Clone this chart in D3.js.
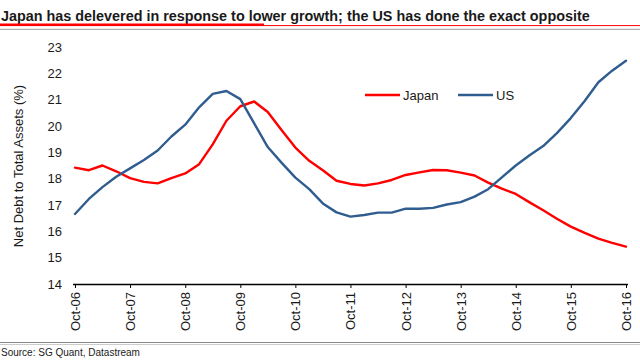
<!DOCTYPE html>
<html><head><meta charset="utf-8">
<script src="https://cdn.jsdelivr.net/npm/d3@7"></script>
<style>
html,body{margin:0;padding:0;background:#fff;}
svg{display:block;font-family:"Liberation Sans",Arial,sans-serif;}
</style></head>
<body><svg id="c" width="640" height="360"></svg>
<script>
// Quarterly observations, Oct-06 .. Oct-16
const dates = ["2006-10","2007-01","2007-04","2007-07","2007-10","2008-01","2008-04","2008-07","2008-10","2009-01",
"2009-04","2009-07","2009-10","2010-01","2010-04","2010-07","2010-10","2011-01","2011-04","2011-07",
"2011-10","2012-01","2012-04","2012-07","2012-10","2013-01","2013-04","2013-07","2013-10","2014-01",
"2014-04","2014-07","2014-10","2015-01","2015-04","2015-07","2015-10","2016-01","2016-04","2016-07","2016-10"];
const japan = [18.42,18.32,18.50,18.28,18.02,17.88,17.82,18.02,18.20,18.55,
19.30,20.20,20.75,20.93,20.53,19.85,19.18,18.68,18.32,17.92,
17.80,17.74,17.82,17.95,18.14,18.24,18.33,18.32,18.23,18.12,
17.85,17.62,17.42,17.10,16.80,16.48,16.18,15.94,15.72,15.56,15.42];
const us = [16.66,17.23,17.68,18.07,18.39,18.71,19.07,19.60,20.05,20.71,
21.22,21.33,21.02,20.10,19.20,18.61,18.04,17.60,17.06,16.72,
16.56,16.62,16.71,16.71,16.86,16.86,16.89,17.02,17.11,17.32,
17.60,18.05,18.50,18.89,19.24,19.73,20.30,20.95,21.66,22.10,22.48];
const yTicks = [14,15,16,17,18,19,20,21,22,23];
const xTickDates = ["2006-10","2007-10","2008-10","2009-10","2010-10","2011-10","2012-10","2013-10","2014-10","2015-10","2016-10"];
const seriesNames = ["Japan","US"];
const colors = ["#ff0000","#2f5d8f"];
const titleText = "Japan has delevered in response to lower growth; the US has done the exact opposite";
const sourceText = "Source: SG Quant, Datastream";

const parse = d3.timeParse("%Y-%m");
const svg = d3.select("#c");

const x = d3.scaleTime().domain([parse("2006-10"), parse("2016-10")]).range([75, 626]);
const y = d3.scaleLinear().domain([14, 23]).range([284, 47]);

// Title
const title = svg.append("text").attr("x", 1).attr("y", 20.5).attr("font-weight", "bold")
  .attr("font-size", 14).attr("fill", "#1a1a1a").text(titleText);
const full = title.node().getComputedTextLength();
const jw = title.node().getSubStringLength(0, 1);
title.attr("font-size", 14 * 581 / (full - jw));

svg.append("line").attr("x1", 0).attr("x2", 640).attr("y1", 25.6).attr("y2", 25.6)
  .attr("stroke", "#ff0000").attr("stroke-width", 1);
svg.append("line").attr("x1", 0).attr("x2", 264).attr("y1", 24.8).attr("y2", 24.8)
  .attr("stroke", "#ff0000").attr("stroke-width", 2.6);
svg.append("line").attr("x1", 0).attr("x2", 640).attr("y1", 29.3).attr("y2", 29.3)
  .attr("stroke", "#9a9a9a").attr("stroke-width", 1);

// Y tick labels
svg.append("g").selectAll("text").data(yTicks).join("text")
  .attr("x", 62).attr("y", d => y(d)).attr("dy", "0.35em")
  .attr("text-anchor", "end").attr("font-size", 13).attr("fill", "#1a1a1a").text(d => d);

// Y axis title
svg.append("text").attr("transform", "translate(18,166) rotate(-90)")
  .attr("text-anchor", "middle").attr("dy", "0.35em").attr("font-size", 13)
  .attr("fill", "#1a1a1a").text("Net Debt to Total Assets (%)");

// X axis
const xAxis = d3.axisBottom(x).tickValues(xTickDates.map(parse))
  .tickFormat(d3.timeFormat("%b-%y")).tickSizeInner(4).tickSizeOuter(0);
const gx = svg.append("g").attr("transform", "translate(0,284)").call(xAxis);
gx.select(".domain").attr("stroke", "#000").attr("stroke-width", 1.4)
  .attr("d", "M73,0.5H628");
gx.selectAll(".tick line").attr("stroke", "#000");
gx.selectAll(".tick text").attr("font-size", 13).attr("fill", "#1a1a1a")
  .attr("font-family", "Liberation Sans, Arial, sans-serif")
  .attr("text-anchor", "end").attr("x", 0).attr("y", 0).attr("dy", "0.35em")
  .attr("transform", "translate(0,8) rotate(-90)");

// Lines
const line = d3.line().x((d, i) => x(parse(dates[i]))).y(d => y(d));
[japan, us].forEach((s, k) => {
  svg.append("path").datum(s).attr("d", line).attr("fill", "none")
    .attr("stroke", colors[k]).attr("stroke-width", 2.4)
    .attr("stroke-linejoin", "round").attr("stroke-linecap", "round");
});

// Legend
const legX = [365, 458];
seriesNames.forEach((n, k) => {
  svg.append("line").attr("x1", legX[k]).attr("x2", legX[k] + 35).attr("y1", 95).attr("y2", 95)
    .attr("stroke", colors[k]).attr("stroke-width", 2.6);
  svg.append("text").attr("x", legX[k] + 38).attr("y", 95).attr("dy", "0.35em")
    .attr("font-size", 13).attr("fill", "#1a1a1a").text(n);
});

// Footer
svg.append("line").attr("x1", 0).attr("x2", 640).attr("y1", 342.5).attr("y2", 342.5)
  .attr("stroke", "#888").attr("stroke-width", 1);
svg.append("line").attr("x1", 0).attr("x2", 640).attr("y1", 344.5).attr("y2", 344.5)
  .attr("stroke", "#ccc").attr("stroke-width", 1);
svg.append("text").attr("x", 1).attr("y", 356).attr("font-size", 10).attr("fill", "#1a1a1a").text(sourceText);
</script></body></html>
